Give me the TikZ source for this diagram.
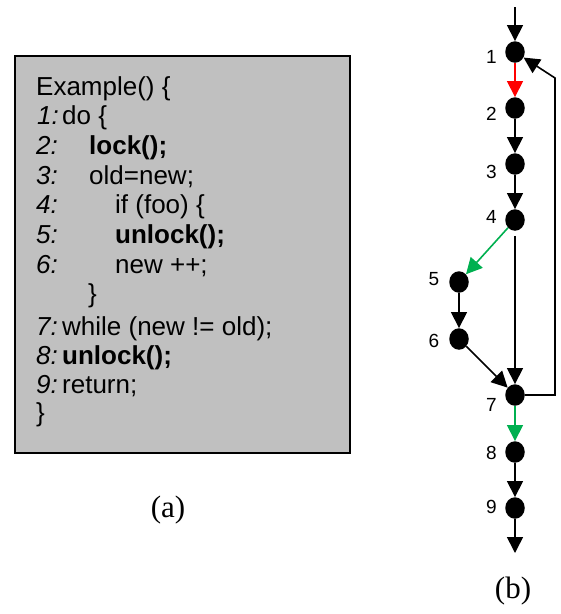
\documentclass[tikz,border=0pt]{standalone}
\usepackage{fontspec}
\setmainfont{Liberation Sans}
\newfontfamily\capfont{Liberation Serif}
\usetikzlibrary{arrows.meta,shapes.geometric}
\definecolor{boxgray}{HTML}{C0C0C0}
\definecolor{arrgreen}{HTML}{00B050}
\begin{document}
\begin{tikzpicture}[x=1pt,y=-1pt,
  codetext/.style={anchor=base west,inner sep=0pt,font=\fontsize{26}{30}\selectfont},
  vtx/.style={ellipse,fill=black,minimum width=19.5pt,minimum height=21.5pt,inner sep=0pt},
  vlab/.style={inner sep=0pt,font=\fontsize{19}{21}\selectfont},
  edge/.style={line width=1.6pt,-{Triangle[length=16pt,width=16pt]}},
  capt/.style={inner sep=0pt,font=\capfont\fontsize{31}{34}\selectfont}]
\useasboundingbox (0,0) rectangle (561,614);
% code box
\node[draw=black,line width=1.5pt,fill=boxgray,minimum width=335pt,minimum height=397pt,anchor=north west,inner sep=0pt] (box) at (14,55) {};
\node[codetext] (t0) at (36,95) {Example() \{};
\node[codetext] (n1) at (37,124.7) {\textit{1:}};
\node[codetext] (c1) at (62,124.7) {do \{};
\node[codetext] (n2) at (36,154.4) {\textit{2:}};
\node[codetext] (c2) at (89,154.4) {\textbf{lock();}};
\node[codetext] (n3) at (36,184.1) {\textit{3:}};
\node[codetext] (c3) at (89,184.1) {old=new;};
\node[codetext] (n4) at (36,213.8) {\textit{4:}};
\node[codetext] (c4) at (115,213.8) {if (foo) \{};
\node[codetext] (n5) at (36,243.5) {\textit{5:}};
\node[codetext] (c5) at (115,243.5) {\textbf{unlock();}};
\node[codetext] (n6) at (36,273.2) {\textit{6:}};
\node[codetext] (c6) at (115,273.2) {new ++;};
\node[codetext] (c6b) at (88,302.9) {\}};
\node[codetext] (n7) at (36,335) {\textit{7:}};
\node[codetext] (c7) at (62,335) {while (new != old);};
\node[codetext] (n8) at (36,364) {\textit{8:}};
\node[codetext] (c8) at (62,364) {\textbf{unlock();}};
\node[codetext] (n9) at (36,393) {\textit{9:}};
\node[codetext] (c9) at (62,393) {return;};
\node[codetext] (c10) at (36,421.7) {\}};
\node[capt] (capa) at (168,510) {(a)};
% graph
\node[vtx] (v1) at (515,52) {};
\node[vtx] (v2) at (515,108) {};
\node[vtx] (v3) at (515,164) {};
\node[vtx] (v4) at (515,220) {};
\node[vtx] (v5) at (459,282) {};
\node[vtx] (v6) at (459,339) {};
\node[vtx] (v7) at (515,395) {};
\node[vtx] (v8) at (515,452) {};
\node[vtx] (v9) at (515,508) {};
\node[vlab] (l1) at (491.5,57) {1};
\node[vlab] (l2) at (491.5,113.5) {2};
\node[vlab] (l3) at (491.5,171.5) {3};
\node[vlab] (l4) at (491.5,216.5) {4};
\node[vlab] (l5) at (434,279) {5};
\node[vlab] (l6) at (434,340.5) {6};
\node[vlab] (l7) at (491.5,404.5) {7};
\node[vlab] (l8) at (491.5,452.5) {8};
\node[vlab] (l9) at (491.5,507) {9};
\coordinate (top) at (515,7);
\coordinate (bot) at (515,553);
\coordinate (fb1) at (555,395);
\coordinate (fb2) at (555,78);
\draw[edge] (top) -- (v1);
\draw[edge,red] (v1) -- (v2);
\draw[edge] (v2) -- (v3);
\draw[edge] (v3) -- (v4);
\draw[edge,arrgreen] (v4) -- (v5);
\draw[edge] (v5) -- (v6);
\draw[edge] (v6) -- (v7);
\draw[edge,shorten <=5pt] (v4) -- (v7);
\draw[edge,arrgreen] (v7) -- (v8);
\draw[edge] (v8) -- (v9);
\draw[edge] (v9) -- (bot);
\draw[edge] (v7.east) -- (fb1) -- (fb2) -- (v1);
\node[capt] (capb) at (513,591) {(b)};
\end{tikzpicture}
\end{document}
